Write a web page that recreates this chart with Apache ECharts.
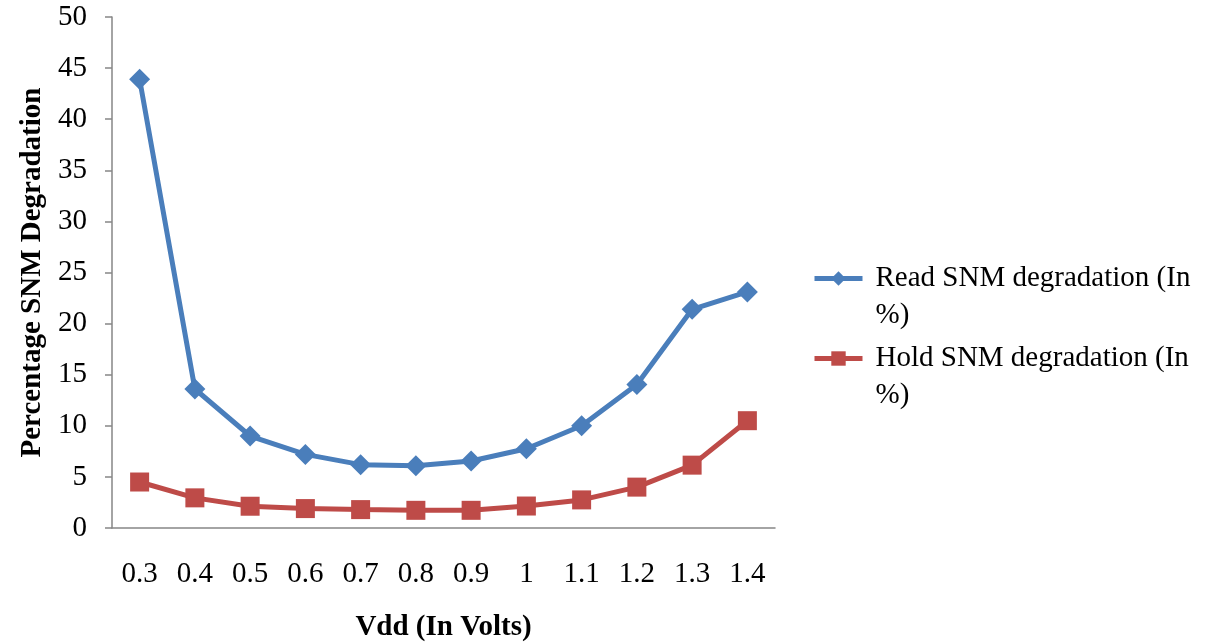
<!DOCTYPE html>
<html>
<head>
<meta charset="utf-8">
<script src="https://cdn.jsdelivr.net/npm/echarts@6/dist/echarts.min.js"></script>
<style>html,body{margin:0;padding:0;background:#fff}#c{width:1205px;height:643px}</style>
</head>
<body>
<div id="c"></div>
<script>
const categories = ['0.3','0.4','0.5','0.6','0.7','0.8','0.9','1','1.1','1.2','1.3','1.4'];
const readSNM = [43.9, 13.6, 9.0, 7.2, 6.2, 6.1, 6.55, 7.75, 10.0, 14.05, 21.4, 23.1];
const holdSNM = [4.5, 2.95, 2.13, 1.9, 1.8, 1.73, 1.73, 2.15, 2.75, 4.0, 6.15, 10.5];
const seriesNames = ['Read SNM degradation (In %)', 'Hold SNM degradation (In %)'];
const xTitle = 'Vdd (In Volts)';
const yTitle = 'Percentage SNM Degradation';

const FONT = "'Liberation Serif', 'Times New Roman', serif";
const FS = 29;
const LH = 37;
const axisColor = '#868686';
const colors = ['#4A7EBB', '#BE4B48'];

function legendFmt(name) {
  const parts = name.replace(' %)', '\n%)').split('\n');
  return '{e| }\n' + parts.map(p => '{t|' + p + '}').join('\n');
}
function mkLegend(name, top) {
  return {
    data: [name],
    orient: 'vertical',
    left: 812,
    top: top,
    padding: 0,
    itemWidth: 48,
    itemHeight: 18,
    itemTextGap: 6,
    lineStyle: { width: 5 },
    formatter: legendFmt,
    textStyle: {
      fontFamily: FONT, fontSize: FS, color: '#000', lineHeight: LH,
      rich: {
        e: { lineHeight: LH, fontSize: FS, fontFamily: FONT },
        t: { lineHeight: LH, fontSize: FS, fontFamily: FONT, color: '#000', padding: [0, 0, 0, 8] }
      }
    }
  };
}

const chart = echarts.init(document.getElementById('c'), null, { renderer: 'canvas' });
chart.setOption({
  animation: false,
  backgroundColor: '#fff',
  grid: { left: 112, right: 430, top: 17, bottom: 115, containLabel: false, outerBoundsMode: 'none' },
  legend: [mkLegend(seriesNames[0], 223), mkLegend(seriesNames[1], 303)],
  xAxis: {
    type: 'category',
    data: categories,
    boundaryGap: true,
    name: xTitle,
    nameLocation: 'middle',
    nameGap: 85,
    nameTextStyle: { fontFamily: FONT, fontSize: FS, fontWeight: 'bold', color: '#000' },
    axisLine: { lineStyle: { color: axisColor, width: 1.5 } },
    axisTick: { show: false },
    axisLabel: { fontFamily: FONT, fontSize: FS, color: '#000', margin: 32 },
    splitLine: { show: false }
  },
  yAxis: {
    type: 'value',
    min: 0, max: 50, interval: 5,
    name: yTitle,
    nameLocation: 'middle',
    nameGap: 64,
    nameRotate: 90,
    nameTextStyle: { fontFamily: FONT, fontSize: FS, fontWeight: 'bold', color: '#000' },
    axisLine: { show: true, lineStyle: { color: axisColor, width: 1.5 } },
    axisTick: { show: true, length: 7, lineStyle: { color: axisColor, width: 1.5 } },
    axisLabel: { fontFamily: FONT, fontSize: FS, color: '#000', margin: 25 },
    splitLine: { show: false }
  },
  series: [
    {
      name: seriesNames[0], type: 'line', data: readSNM,
      symbol: 'diamond', symbolSize: 21,
      lineStyle: { color: colors[0], width: 5 },
      itemStyle: { color: colors[0] },
      z: 3
    },
    {
      name: seriesNames[1], type: 'line', data: holdSNM,
      symbol: 'rect', symbolSize: 19,
      lineStyle: { color: colors[1], width: 5 },
      itemStyle: { color: colors[1] },
      z: 2
    }
  ]
});
</script>
</body>
</html>
